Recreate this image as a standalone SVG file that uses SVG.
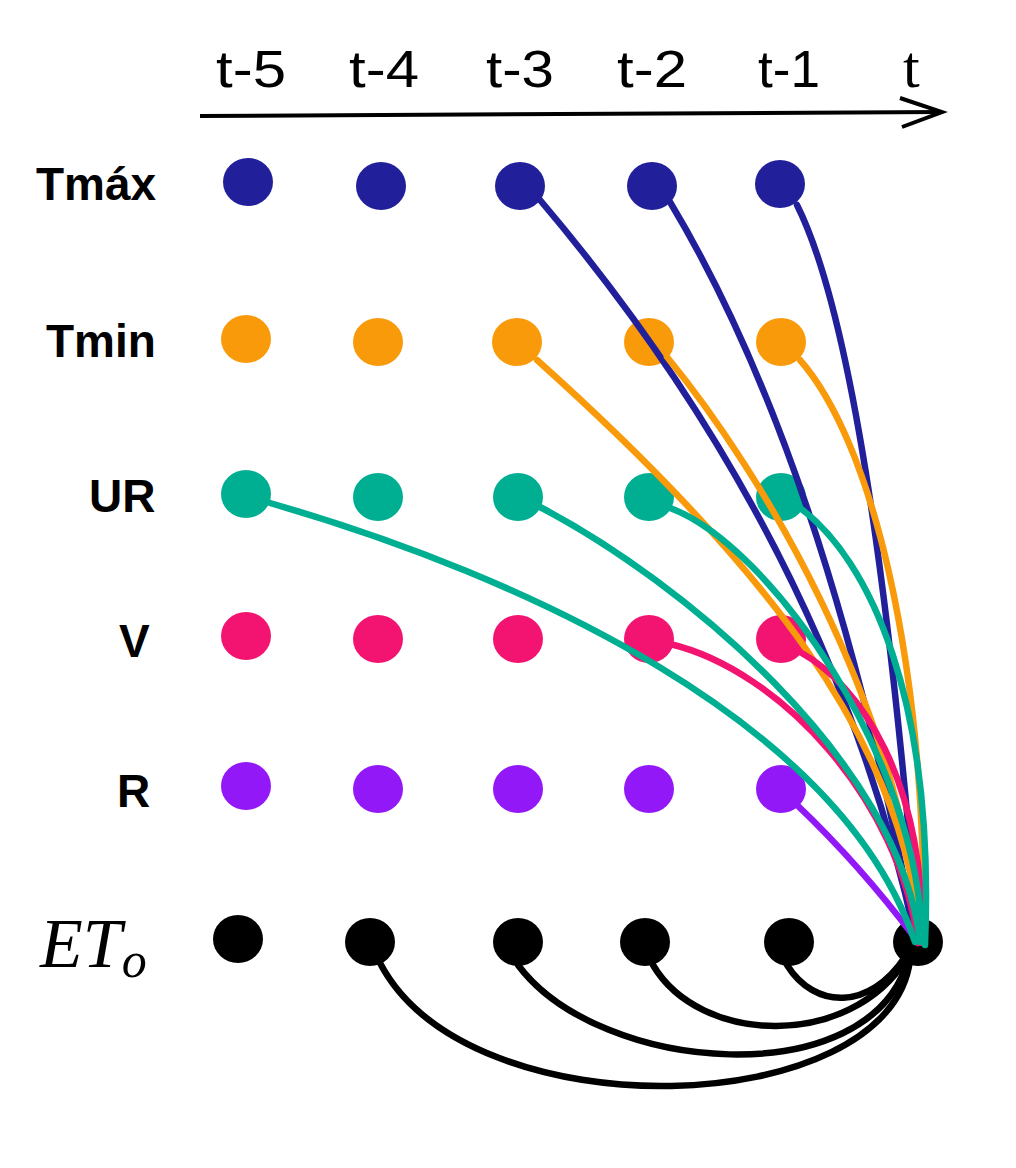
<svg xmlns="http://www.w3.org/2000/svg" width="1016" height="1168" viewBox="0 0 1016 1168">
<style>
.lbl{font-family:"Liberation Sans",Arial,sans-serif;font-weight:bold;font-size:46px;fill:#000}
.tl{font-family:"Liberation Sans",Arial,sans-serif;font-size:52px;fill:#000}
.e{fill:none;stroke-width:6.5;stroke-linecap:round}
.nv{fill:#221F9B}.or{fill:#F99A0A}.tq{fill:#00AF91}.pk{fill:#F31471}.pu{fill:#9218F8}.bk{fill:#000}
</style>
<rect width="1016" height="1168" fill="#fff"/>
<g id="axis">
<line x1="200" y1="116" x2="941" y2="112" stroke="#000" stroke-width="4"/>
<polyline points="900,98 942,112 902,127" fill="none" stroke="#000" stroke-width="4"/>
<text class="tl" x="216" y="87" textLength="70" lengthAdjust="spacingAndGlyphs">t-5</text>
<text class="tl" x="349" y="87" textLength="70" lengthAdjust="spacingAndGlyphs">t-4</text>
<text class="tl" x="486" y="87" textLength="68" lengthAdjust="spacingAndGlyphs">t-3</text>
<text class="tl" x="617" y="87" textLength="70" lengthAdjust="spacingAndGlyphs">t-2</text>
<text class="tl" x="758" y="87" textLength="62" lengthAdjust="spacingAndGlyphs">t-1</text>
<text x="903" y="87" font-family="Liberation Serif,serif" font-size="60">t</text>
</g>
<g id="labels">
<text class="lbl" x="36" y="200">Tmáx</text>
<text class="lbl" x="46" y="357">Tmin</text>
<text class="lbl" x="89" y="512">UR</text>
<text class="lbl" x="119" y="657">V</text>
<text class="lbl" x="117" y="807">R</text>
<text x="40" y="967" font-family="Liberation Serif,serif" font-style="italic" font-size="70">ET<tspan font-size="50" dy="10">o</tspan></text>
</g>
<g id="nodes-tmax" class="nv">
<ellipse id="tmax5" cx="248" cy="182" rx="25" ry="24"/>
<ellipse id="tmax4" cx="381" cy="186" rx="25" ry="24"/>
<ellipse id="tmax3" cx="520" cy="186" rx="25" ry="24"/>
<ellipse id="tmax2" cx="652" cy="186" rx="25" ry="24"/>
<ellipse id="tmax1" cx="780" cy="184" rx="25" ry="24"/>
</g>
<g id="nodes-tmin" class="or">
<ellipse id="tmin5" cx="246" cy="339" rx="25" ry="24"/>
<ellipse id="tmin4" cx="378" cy="342" rx="25" ry="24"/>
<ellipse id="tmin3" cx="517" cy="342" rx="25" ry="24"/>
<ellipse id="tmin2" cx="649" cy="342" rx="25" ry="24"/>
<ellipse id="tmin1" cx="781" cy="342" rx="25" ry="24"/>
</g>
<g id="nodes-ur" class="tq">
<ellipse id="ur5" cx="246" cy="494" rx="25" ry="24"/>
<ellipse id="ur4" cx="378" cy="497" rx="25" ry="24"/>
<ellipse id="ur3" cx="518" cy="497" rx="25" ry="24"/>
<ellipse id="ur2" cx="649" cy="497" rx="25" ry="24"/>
<ellipse id="ur1" cx="781" cy="497" rx="25" ry="24"/>
</g>
<g id="nodes-v" class="pk">
<ellipse id="v5" cx="246" cy="636" rx="25" ry="24"/>
<ellipse id="v4" cx="378" cy="639" rx="25" ry="24"/>
<ellipse id="v3" cx="518" cy="639" rx="25" ry="24"/>
<ellipse id="v2" cx="649" cy="639" rx="25" ry="24"/>
<ellipse id="v1" cx="781" cy="639" rx="25" ry="24"/>
</g>
<g id="nodes-r" class="pu">
<ellipse id="r5" cx="246" cy="786" rx="25" ry="24"/>
<ellipse id="r4" cx="378" cy="789" rx="25" ry="24"/>
<ellipse id="r3" cx="518" cy="789" rx="25" ry="24"/>
<ellipse id="r2" cx="649" cy="789" rx="25" ry="24"/>
<ellipse id="r1" cx="781" cy="789" rx="25" ry="24"/>
</g>
<g id="nodes-et" class="bk">
<ellipse id="et5" cx="238" cy="939" rx="25" ry="24"/>
<ellipse id="et4" cx="370" cy="942" rx="25" ry="24"/>
<ellipse id="et3" cx="518" cy="942" rx="25" ry="24"/>
<ellipse id="et2" cx="645" cy="942" rx="25" ry="24"/>
<ellipse id="et1" cx="789" cy="942" rx="25" ry="24"/>
<ellipse id="et0" cx="918" cy="942" rx="25" ry="24"/>
</g>
<g id="connectors">
<g stroke="#000">
<path class="e" d="M787,965 C815,1010 870,1010 905,957"/>
<path class="e" d="M653,965 C700,1045 850,1050 907,958"/>
<path class="e" d="M518,965 C600,1075 870,1095 908,960"/>
<path class="e" d="M380,963 C470,1135 890,1120 910,960"/>
</g>
<g stroke="#221F9B">
<path class="e" d="M540,200 Q830,542 916,940"/>
<path class="e" d="M670,202 Q828,465 916,940"/>
<path class="e" d="M797,205 Q871,353 918,940"/>
</g>
<g stroke="#F99A0A">
<path class="e" d="M537,360 C760,560 905,740 920,938"/>
<path class="e" d="M667,357 C760,470 900,700 920,938"/>
<path class="e" d="M800,360 C870,440 925,650 924,938"/>
</g>
<g stroke="#F31471">
<path class="e" d="M670,644 C780,670 900,800 918,943"/>
<path class="e" d="M800,652 C860,685 925,780 922,943"/>
</g>
<g stroke="#9218F8">
<path class="e" d="M797,805 Q860,865 915,938"/>
</g>
<g stroke="#00AF91">
<path class="e" d="M270,503 C520,575 840,720 915,942"/>
<path class="e" d="M540,507 C680,580 900,760 920,942"/>
<path class="e" d="M670,508 C770,545 920,760 922,942"/>
<path class="e" d="M800,508 C870,560 935,700 925,945"/>
</g>
</g>
</svg>
